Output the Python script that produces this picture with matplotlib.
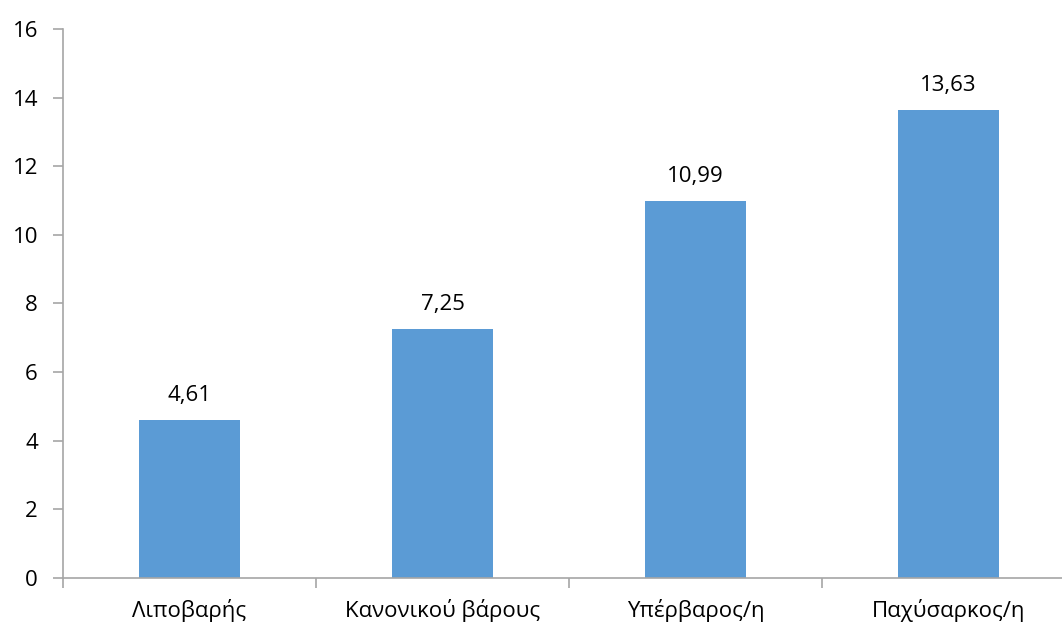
import matplotlib
matplotlib.use('Agg')
import matplotlib.pyplot as plt

# categories and mean values
categories = ['Λιποβαρής', 'Κανονικού βάρους', 'Υπέρβαρος/η', 'Παχύσαρκος/η']
values = [4.61, 7.25, 10.99, 13.63]
y_ticks = [0, 2, 4, 6, 8, 10, 12, 14, 16]

plt.rcParams['font.family'] = ['Open Sans', 'DejaVu Sans']

fig = plt.figure(figsize=(10.62, 6.28), dpi=100)
ax = fig.add_axes([0.0593, 0.0796, 0.953, 0.8744])

x = range(len(categories))
ax.bar(x, values, width=0.4, color='#5B9BD5', zorder=2)

for i, v in enumerate(values):
    ax.annotate(f'{v:.2f}'.replace('.', ','), (i, v), xytext=(0, 10),
                textcoords='offset points', ha='center', va='bottom',
                fontsize=16, color='#000000')

ax.set_xlim(-0.5, len(categories) - 0.5)
ax.set_ylim(0, 16)
ax.set_yticks(y_ticks)
ax.set_yticklabels([str(t) for t in y_ticks], fontsize=16)

# category labels between boundary ticks
ax.set_xticks([i - 0.5 for i in range(len(categories) + 1)])
ax.set_xticklabels([])
ax.set_xticks(list(x), minor=True)
ax.set_xticklabels(categories, minor=True, fontsize=16)
ax.tick_params(axis='x', which='minor', length=0, pad=15)
ax.tick_params(axis='x', which='major', length=7, color='#A6A6A6', width=1.2)
ax.tick_params(axis='y', length=7, color='#A6A6A6', width=1.2, pad=11)

for side in ['top', 'right']:
    ax.spines[side].set_visible(False)
for side in ['left', 'bottom']:
    ax.spines[side].set_color('#A6A6A6')
    ax.spines[side].set_linewidth(1.2)

fig.savefig('out.png', dpi=100)
